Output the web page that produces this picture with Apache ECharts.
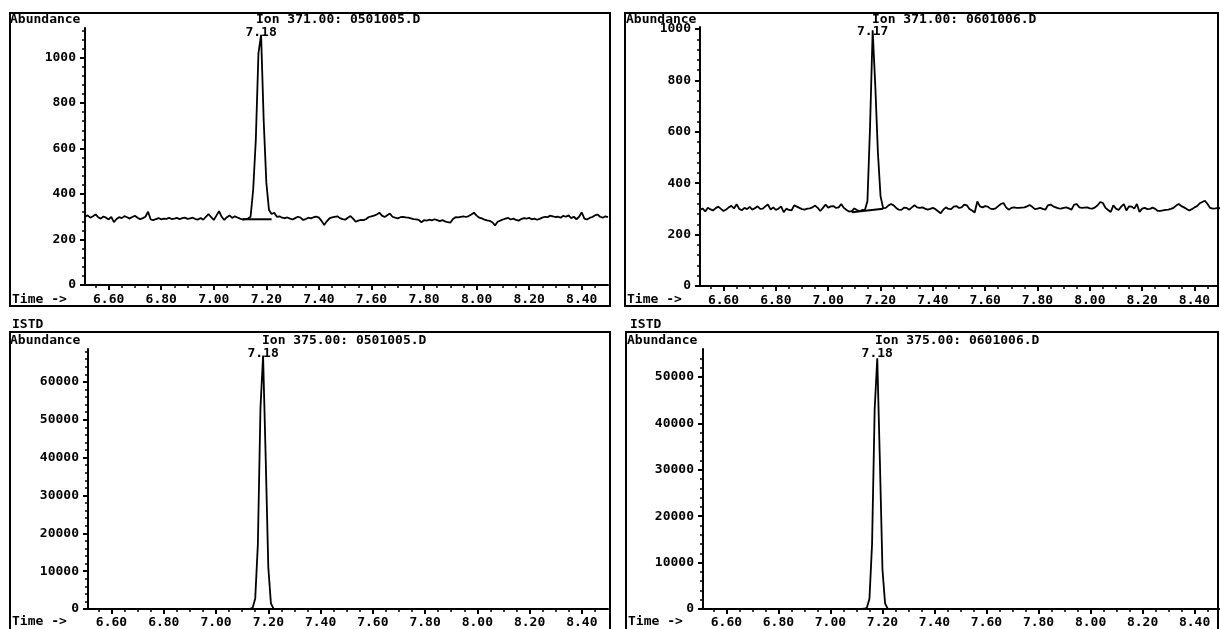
<!DOCTYPE html>
<html><head><meta charset="utf-8">
<script src="https://cdn.jsdelivr.net/npm/echarts@6/dist/echarts.min.js"></script>
<style>html,body{margin:0;padding:0;background:#fff}#c{width:1220px;height:629px}</style>
</head><body><div id="c"></div><script>
// sampling grid of the ion traces (minutes)
const time0 = 6.51, timeStep = 0.01, nPts = 200;

// Ion 371.00, file 0501005.D (6.51 .. 8.50)
const ion371_0501005 = [
 300,306,296,302,310,298,292,301,296,288,
 300,276,290,298,294,303,298,292,299,304,
 296,289,294,300,322,288,285,290,294,289,
 292,291,295,290,292,295,289,294,296,291,
 293,296,290,288,295,287,300,312,298,286,
 305,325,300,286,298,306,295,302,297,292,
 288,290,292,300,420,640,1020,1100,720,450,
 330,312,318,300,302,296,294,297,292,288,
 294,300,296,286,290,296,293,298,301,296,
 282,264,280,293,297,300,302,294,290,287,
 296,303,292,278,283,286,285,290,299,302,
 305,310,318,305,299,307,314,300,296,293,
 298,300,297,296,293,290,289,286,276,285,
 283,287,284,289,285,281,285,280,276,274,
 290,298,297,300,302,299,303,310,318,305,
 296,293,287,284,282,276,262,278,283,288,
 292,295,288,292,286,283,290,294,292,295,
 289,292,287,291,296,300,298,305,302,299,
 300,296,304,300,306,294,300,289,300,320,
 292,288,295,299,306,310,300,296,302,298];

// Ion 371.00, file 0601006.D (6.51 .. 8.50)
const ion371_0601006 = [
 296,302,290,305,298,294,303,309,300,292,
 298,306,312,302,318,300,295,304,299,308,
 297,303,310,300,301,310,317,297,306,296,
 301,310,287,301,296,294,314,309,304,299,
 297,301,302,306,313,304,292,304,317,305,
 310,311,304,306,319,304,296,290,291,302,
 296,291,296,295,330,620,995,780,520,350,
 303,304,313,319,314,304,297,296,305,304,
 297,306,314,306,304,306,301,297,300,304,
 299,291,283,297,306,300,299,309,311,304,
 306,317,314,300,294,286,329,310,306,311,
 309,301,299,302,311,319,323,306,297,304,
 306,304,304,305,306,310,315,308,299,301,
 304,300,297,314,317,310,306,302,301,304,
 306,302,297,317,319,306,304,305,306,302,
 301,306,314,327,323,304,296,288,314,301,
 296,309,319,294,310,309,301,319,288,301,
 304,299,300,305,300,292,292,294,296,297,
 300,304,313,319,311,306,300,294,299,306,
 311,322,327,332,319,304,301,302,304,302];

// integration baselines drawn under the ion 371 peaks: [time, abundance]
const base_0501005 = [[7.11, 289], [7.22, 289]];
const base_0601006 = [[7.09, 287], [7.21, 301]];

// ISTD ion 375.00 traces
const istdTimes    = [6.51, 7.12, 7.13, 7.14, 7.15, 7.16, 7.17, 7.18, 7.19, 7.20, 7.21, 7.22, 7.23, 8.50];
const istd_0501005 = [0, 0, 60, 300, 2800, 17000, 53000, 67000, 40000, 11000, 1500, 100, 0, 0];
const istd_0601006 = [0, 0, 50, 250, 2200, 14000, 43000, 54000, 32000, 8500, 1200, 80, 0, 0];

// peak retention-time labels and their times
const peakLabels = ['7.18', '7.17', '7.18', '7.18'];
const peakTimes  = [7.18, 7.17, 7.18, 7.18];

// panel texts
const panelTitles = ['Ion 371.00: 0501005.D', 'Ion 371.00: 0601006.D', 'Ion 375.00: 0501005.D', 'Ion 375.00: 0601006.D'];

// tick labels
const xTicks = [6.60, 6.80, 7.00, 7.20, 7.40, 7.60, 7.80, 8.00, 8.20, 8.40];
const yTicksTop = [0, 200, 400, 600, 800, 1000];
const yTicksBL  = [0, 10000, 20000, 30000, 40000, 50000, 60000];
const yTicksBR  = [0, 10000, 20000, 30000, 40000, 50000];

// axis ranges
const xMin = 6.51;
const xMaxes = [8.50, 8.49, 8.50, 8.49];
const yMaxes = [1130, 1008, 68700, 56000];

// ---------- build ----------
const FONT = '"DejaVu Sans Mono", monospace';
const times = Array.from({length: nPts}, (_, i) => +(time0 + i * timeStep).toFixed(2));
const pairs = (ts, vs) => ts.map((t, i) => [t, vs[i]]);

const minorX = [];
for (let k = 131; k <= 170; k++) { const v = +(k * 0.05).toFixed(2); if (v > xMin && v < 8.5 && Math.round(v * 100) % 20 !== 0) minorX.push(v); }
function minorY(major, max) {
  const step = major / 5, out = [];
  for (let v = step; v < max; v += step) { if (Math.round(v) % major !== 0) out.push(Math.round(v)); }
  return out;
}
const yMajors = [yTicksTop, yTicksTop, yTicksBL, yTicksBR];
const yMinors = [minorY(200, yMaxes[0]), minorY(200, yMaxes[1]), minorY(10000, yMaxes[2]), minorY(10000, yMaxes[3])];

const grids = [
  {left: 85,  top: 28,  width: 523, height: 257},
  {left: 700, top: 27,  width: 518, height: 259},
  {left: 88,  top: 349, width: 520, height: 261},
  {left: 703, top: 349, width: 515, height: 261}
];
const labelMargins = [8, 8, 7, 7];

const xAxis = [], yAxis = [], series = [];
for (let p = 0; p < 4; p++) {
  xAxis.push({
    gridIndex: p, type: 'value', position: 'bottom', min: xMin, max: xMaxes[p],
    axisLine: {show: true, onZero: false, lineStyle: {color: '#000', width: 2}},
    axisTick: {show: true, customValues: xTicks, length: 5, lineStyle: {color: '#000', width: 2}},
    axisLabel: {show: true, customValues: xTicks, formatter: v => v.toFixed(2), margin: labelMargins[p],
      color: '#000', fontFamily: FONT, fontWeight: 'bold', fontSize: 13},
    splitLine: {show: false}
  });
  xAxis.push({
    gridIndex: p, type: 'value', position: 'bottom', min: xMin, max: xMaxes[p],
    axisLine: {show: false},
    axisTick: {show: true, customValues: minorX, length: 3, lineStyle: {color: '#000', width: 1.5}},
    axisLabel: {show: false}, splitLine: {show: false}
  });
  yAxis.push({
    gridIndex: p, type: 'value', position: 'left', min: 0, max: yMaxes[p],
    axisLine: {show: true, onZero: false, lineStyle: {color: '#000', width: 2}},
    axisTick: {show: true, customValues: yMajors[p], length: 5, lineStyle: {color: '#000', width: 2}},
    axisLabel: {show: true, customValues: yMajors[p], formatter: v => String(v), margin: 9, color: '#000',
      fontFamily: FONT, fontWeight: 'bold', fontSize: 13},
    splitLine: {show: false}
  });
  yAxis.push({
    gridIndex: p, type: 'value', position: 'left', min: 0, max: yMaxes[p],
    axisLine: {show: false},
    axisTick: {show: true, customValues: yMinors[p], length: 3, lineStyle: {color: '#000', width: 1.5}},
    axisLabel: {show: false}, splitLine: {show: false}
  });
}

const traces = [pairs(times, ion371_0501005), pairs(times, ion371_0601006), pairs(istdTimes, istd_0501005), pairs(istdTimes, istd_0601006)];
for (let p = 0; p < 4; p++) {
  series.push({type: 'line', xAxisIndex: 2 * p, yAxisIndex: 2 * p, data: traces[p], symbol: 'none',
    lineStyle: {color: '#000', width: 1.8}, animation: false, z: 3});
  series.push({type: 'scatter', xAxisIndex: 2 * p, yAxisIndex: 2 * p, data: [[peakTimes[p], yMaxes[p]]],
    symbol: 'circle', symbolSize: 0, itemStyle: {color: '#000', opacity: 1}, animation: false, z: 5, silent: true,
    label: {show: true, position: 'inside', offset: [0, 5], formatter: peakLabels[p], color: '#000',
      textBorderWidth: 0, opacity: 1, fontFamily: FONT, fontWeight: 'bold', fontSize: 13}});
}
series.push({type: 'line', xAxisIndex: 0, yAxisIndex: 0, data: base_0501005, symbol: 'none', lineStyle: {color: '#000', width: 2}, animation: false});
series.push({type: 'line', xAxisIndex: 2, yAxisIndex: 2, data: base_0601006, symbol: 'none', lineStyle: {color: '#000', width: 2}, animation: false});

const txt = (x, y, text) => ({type: 'text', x: x, y: y, z: 10,
  style: {text: text, font: 'bold 13px ' + FONT, fill: '#000', verticalAlign: 'middle', align: 'left'}});
const box = (x, y, w, h) => ({type: 'rect', z: 1, shape: {x: x, y: y, width: w, height: h},
  style: {fill: 'none', stroke: '#000', lineWidth: 2}});

const graphic = [
  box(10, 13, 600, 293), box(625, 13, 593, 293), box(10, 332, 600, 300), box(626, 332, 592, 300),
  txt(10, 20, 'Abundance'), txt(256, 20, panelTitles[0]), txt(12, 300, 'Time ->'),
  txt(626, 20, 'Abundance'), txt(872, 20, panelTitles[1]), txt(627, 300, 'Time ->'),
  txt(12, 325, 'ISTD'), txt(10, 341, 'Abundance'), txt(262, 341, panelTitles[2]), txt(12, 622, 'Time ->'),
  txt(630, 325, 'ISTD'), txt(627, 341, 'Abundance'), txt(875, 341, panelTitles[3]), txt(628, 622, 'Time ->')
];

const chart = echarts.init(document.getElementById('c'), null, {renderer: 'canvas'});
chart.setOption({backgroundColor: '#fff', animation: false, grid: grids, xAxis: xAxis, yAxis: yAxis, series: series, graphic: graphic});
</script></body></html>
